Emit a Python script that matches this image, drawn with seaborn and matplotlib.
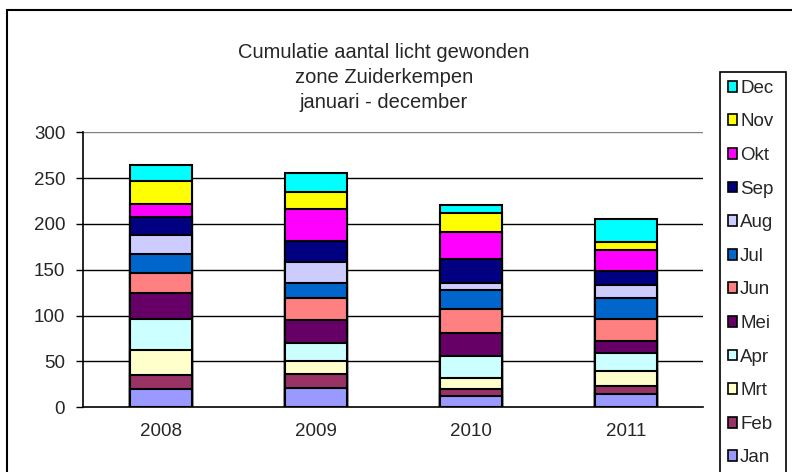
import numpy as np
import pandas as pd
import matplotlib
matplotlib.use("Agg")
import matplotlib.pyplot as plt
import seaborn as sns
from matplotlib.patches import Patch, Rectangle

years = ["2008", "2009", "2010", "2011"]
months = ["Jan", "Feb", "Mrt", "Apr", "Mei", "Jun", "Jul", "Aug", "Sep", "Okt", "Nov", "Dec"]
jan = [20, 21, 12, 15]
feb = [15, 15, 8, 8]
mrt = [27, 14, 12, 17]
apr = [34, 20, 24, 19]
mei = [29, 25, 25, 13]
jun = [21, 24, 26, 24]
jul = [21, 17, 21, 23]
aug = [21, 22, 8, 14]
sep = [20, 23, 26, 16]
okt = [14, 35, 29, 23]
nov = [25, 19, 21, 8]
dec = [17, 21, 9, 25]
colors = ["#9999FF", "#993366", "#FFFFCC", "#CCFFFF", "#660066", "#FF8080",
          "#0066CC", "#CCCCFF", "#000080", "#FF00FF", "#FFFF00", "#00FFFF"]
title_lines = ["Cumulatie aantal licht gewonden", "zone Zuiderkempen", "januari - december"]

sns.set_style("white")
plt.rcParams["font.family"] = ["Liberation Sans", "DejaVu Sans"]

vals = np.array([jan, feb, mrt, apr, mei, jun, jul, aug, sep, okt, nov, dec])
cum = np.cumsum(vals, axis=0)

W, H = 792, 472
fig = plt.figure(figsize=(W / 100, H / 100), dpi=100)
ax = fig.add_axes([83.3 / W, 1 - 407.3 / H, 620 / W, 275 / H])

for i in range(len(months) - 1, -1, -1):
    df = pd.DataFrame({"year": years, "value": cum[i]})
    sns.barplot(data=df, x="year", y="value", color=colors[i], saturation=1,
                width=0.4, edgecolor="black", linewidth=1.5, ax=ax, zorder=3)

ax.set_xlim(-0.5, 3.5)
ax.set_ylim(0, 300)
ax.set_yticks(np.arange(0, 301, 50))
ax.set_xlabel("")
ax.set_ylabel("")
ax.set_xticks(np.arange(-0.5, 3.6, 1), minor=True)
ax.tick_params(axis="x", which="major", length=0, pad=11, labelsize=13.5)
ax.tick_params(axis="x", which="minor", length=5, width=1, color="black", direction="out")
ax.tick_params(axis="y", which="major", length=5, width=1, color="black", direction="out",
               pad=8, labelsize=13.5, left=True)
for y in np.arange(50, 301, 50):
    ax.axhline(y, color="black" if y < 300 else "#808080", lw=1, zorder=1)
for s in ["top", "right"]:
    ax.spines[s].set_visible(False)
for s in ["left", "bottom"]:
    ax.spines[s].set_color("black")
    ax.spines[s].set_linewidth(1.2)

for k, line in enumerate(title_lines):
    fig.text(384 / W, 1 - (53 + 24.5 * k) / H, line, ha="center", va="center", fontsize=14.5)

handles = [Patch(facecolor=colors[i], edgecolor="black", linewidth=1.2, label=months[i])
           for i in range(len(months) - 1, -1, -1)]
leg = fig.legend(handles=handles, loc="upper left",
                 bbox_to_anchor=(720 / W, 1 - 72 / H),
                 frameon=False, fontsize=13.5,
                 handlelength=0.5, handleheight=0.5, handletextpad=0.15,
                 labelspacing=0.885, borderpad=0.42, borderaxespad=0)

# legend box outline and outer chart border
fig.add_artist(Rectangle((720 / W, -0.05), 66 / W, 1 - 72 / H + 0.05,
                         transform=fig.transFigure, fill=False,
                         edgecolor="black", lw=1.2, zorder=5))
fig.add_artist(Rectangle((7 / W, -0.05), 1.2, 1 - 10 / H + 0.05, transform=fig.transFigure,
                         fill=False, edgecolor="black", lw=1.5, zorder=0))

fig.savefig("out.png", dpi=100)
